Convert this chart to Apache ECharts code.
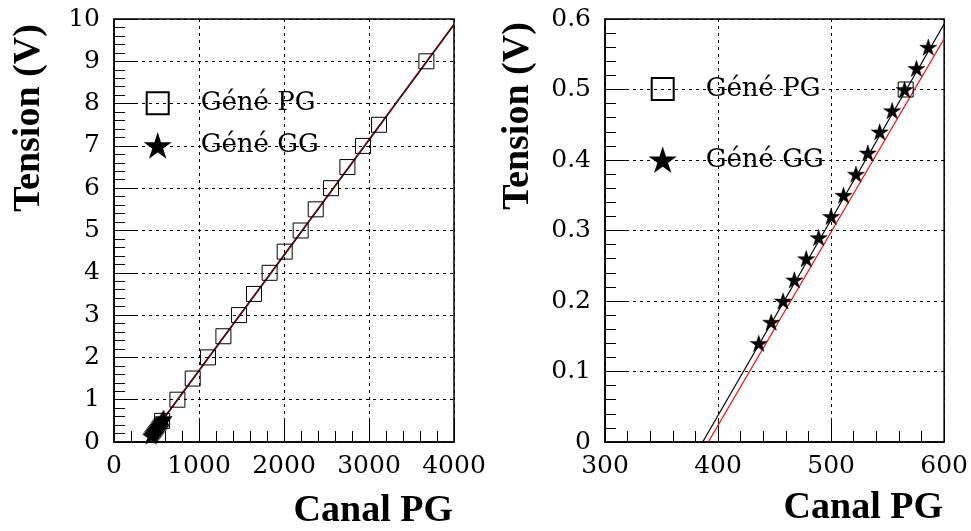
<!DOCTYPE html>
<html>
<head>
<meta charset="utf-8">
<script src="https://cdn.jsdelivr.net/npm/echarts@6/dist/echarts.min.js"></script>
<style>
html, body { margin: 0; padding: 0; background: #fff; }
#chart { width: 971px; height: 531px; }
</style>
</head>
<body>
<div id="chart"></div>
<script>
// Calibration points: generator channel vs. injected tension
const pgChannel = [566, 746, 926, 1106, 1287, 1471, 1647, 1831, 2008, 2196, 2373, 2553, 2746, 2930, 3118, 3675];
const pgTension = [0.5, 1.0, 1.5, 2.0, 2.5, 3.0, 3.5, 4.0, 4.5, 5.0, 5.5, 6.0, 6.5, 7.0, 7.5, 9.0];
const ggChannel = [436, 447, 457.5, 467.5, 478, 489, 500, 511, 522, 532.5, 543, 554, 565, 575.5, 586];
const ggTension = [0.14, 0.17, 0.20, 0.23, 0.26, 0.29, 0.32, 0.35, 0.38, 0.41, 0.44, 0.47, 0.50, 0.53, 0.56];

// Linear fits (end points)
const fitAllChannel = [381, 4000];
const fitAllTension = [0, 9.87];
const fitGGChannel = [386.4, 600];
const fitGGTension = [0, 0.593];
const fitPGChannel = [391.4, 600];
const fitPGTension = [0, 0.572];

// Axis ranges and tick steps
const leftX = { min: 0, max: 4000, step: 1000 };
const leftY = { min: 0, max: 10, step: 1 };
const rightX = { min: 300, max: 600, step: 100 };
const rightY = { min: 0, max: 0.6, step: 0.1 };

const legendNames = ['Géné PG', 'Géné GG'];
const xTitle = 'Canal PG';
const yTitle = 'Tension (V)';

const LABEL_FONT = 'DejaVu Serif';
const TITLE_FONT = 'Liberation Serif';
const STAR = 'path://M50,0L61.17,34.63L97.55,34.55L68.07,55.87L79.39,90.45L50,69L20.61,90.45L31.93,55.87L2.45,34.55L38.83,34.63Z';

const zip = (xs, ys) => xs.map((x, i) => [x, ys[i]]);
const plain = v => String(Math.round(v * 1000) / 1000);

function axis(range, isX, grid) {
  return {
    type: 'value', gridIndex: grid,
    min: range.min, max: range.max, interval: range.step,
    axisLine: { show: true, lineStyle: { color: '#000', width: 1.5 } },
    axisTick: { show: true, inside: true, length: 21, lineStyle: { color: '#000', width: 1 } },
    minorTick: { show: true, splitNumber: 5, length: 11, lineStyle: { color: '#000', width: 1 } },
    splitLine: { show: true, lineStyle: { color: '#000', width: 1, type: [3, 4] } },
    axisLabel: {
      show: true, color: '#000', fontFamily: LABEL_FONT, fontSize: 25,
      margin: isX ? 12 : 14, formatter: plain, showMinLabel: true, showMaxLabel: true
    }
  };
}

function pgSeries(xi) {
  return {
    name: legendNames[0], type: 'scatter', xAxisIndex: xi, yAxisIndex: xi,
    data: zip(pgChannel, pgTension), symbol: 'rect', symbolSize: 15, z: 4,
    itemStyle: { color: 'rgba(255,255,255,0)', borderColor: '#000', borderWidth: 1, opacity: 1 }
  };
}
function ggSeries(xi) {
  return {
    name: legendNames[1], type: 'scatter', xAxisIndex: xi, yAxisIndex: xi,
    data: zip(ggChannel, ggTension), symbol: STAR, symbolSize: 17, symbolKeepAspect: true, z: 5,
    itemStyle: { color: '#000', borderColor: '#000', borderWidth: 0.5, opacity: 1 }
  };
}
function fitLine(xi, xs, ys, color, width, z) {
  return {
    type: 'line', xAxisIndex: xi, yAxisIndex: xi, data: zip(xs, ys),
    symbol: 'none', silent: true, z: z, clip: true,
    lineStyle: { color: color, width: width }
  };
}
function legend(left, top, gap) {
  return {
    orient: 'vertical', left: left, top: top, itemGap: gap, padding: 0,
    itemWidth: 22, itemHeight: 22,
    data: legendNames,
    textStyle: { fontFamily: LABEL_FONT, fontSize: 26, lineHeight: 32, color: '#000', padding: [0, 0, 0, 27] },
    selectedMode: false
  };
}
function title(x, y, rot, align) {
  return {
    type: 'text', x: x, y: y, rotation: rot, z: 100,
    style: { text: rot ? yTitle : xTitle, fontFamily: TITLE_FONT, fontWeight: 'bold', fontSize: 38, fill: '#000',
             textAlign: align, textVerticalAlign: 'middle' }
  };
}

const chart = echarts.init(document.getElementById('chart'), null, { renderer: 'canvas' });
chart.setOption({
  backgroundColor: '#fff',
  animation: false,
  grid: [
    { left: 114, right: 517, top: 19, bottom: 89, show: true, borderColor: '#000', borderWidth: 1.5, backgroundColor: 'transparent' },
    { left: 605, right: 26, top: 19, bottom: 89, show: true, borderColor: '#000', borderWidth: 1.5, backgroundColor: 'transparent' }
  ],
  xAxis: [axis(leftX, true, 0), axis(rightX, true, 1)],
  yAxis: [axis(leftY, false, 0), axis(rightY, false, 1)],
  legend: [legend(145.7, 87.3, 10.4), legend(650.7, 73, 39)],
  series: [
    fitLine(0, fitAllChannel, fitAllTension, '#000', 1.8, 2),
    fitLine(0, fitAllChannel, fitAllTension, '#d00000', 0.8, 3),
    pgSeries(0),
    ggSeries(0),
    fitLine(1, fitGGChannel, fitGGTension, '#000', 1.2, 2),
    fitLine(1, fitPGChannel, fitPGTension, '#ff0000', 1.2, 2),
    pgSeries(1),
    ggSeries(1)
  ],
  graphic: [
    title(29, 118, Math.PI / 2, 'center'),
    title(518, 116, Math.PI / 2, 'center'),
    title(453, 511, 0, 'right'),
    title(943, 508, 0, 'right')
  ]
});
</script>
</body>
</html>
